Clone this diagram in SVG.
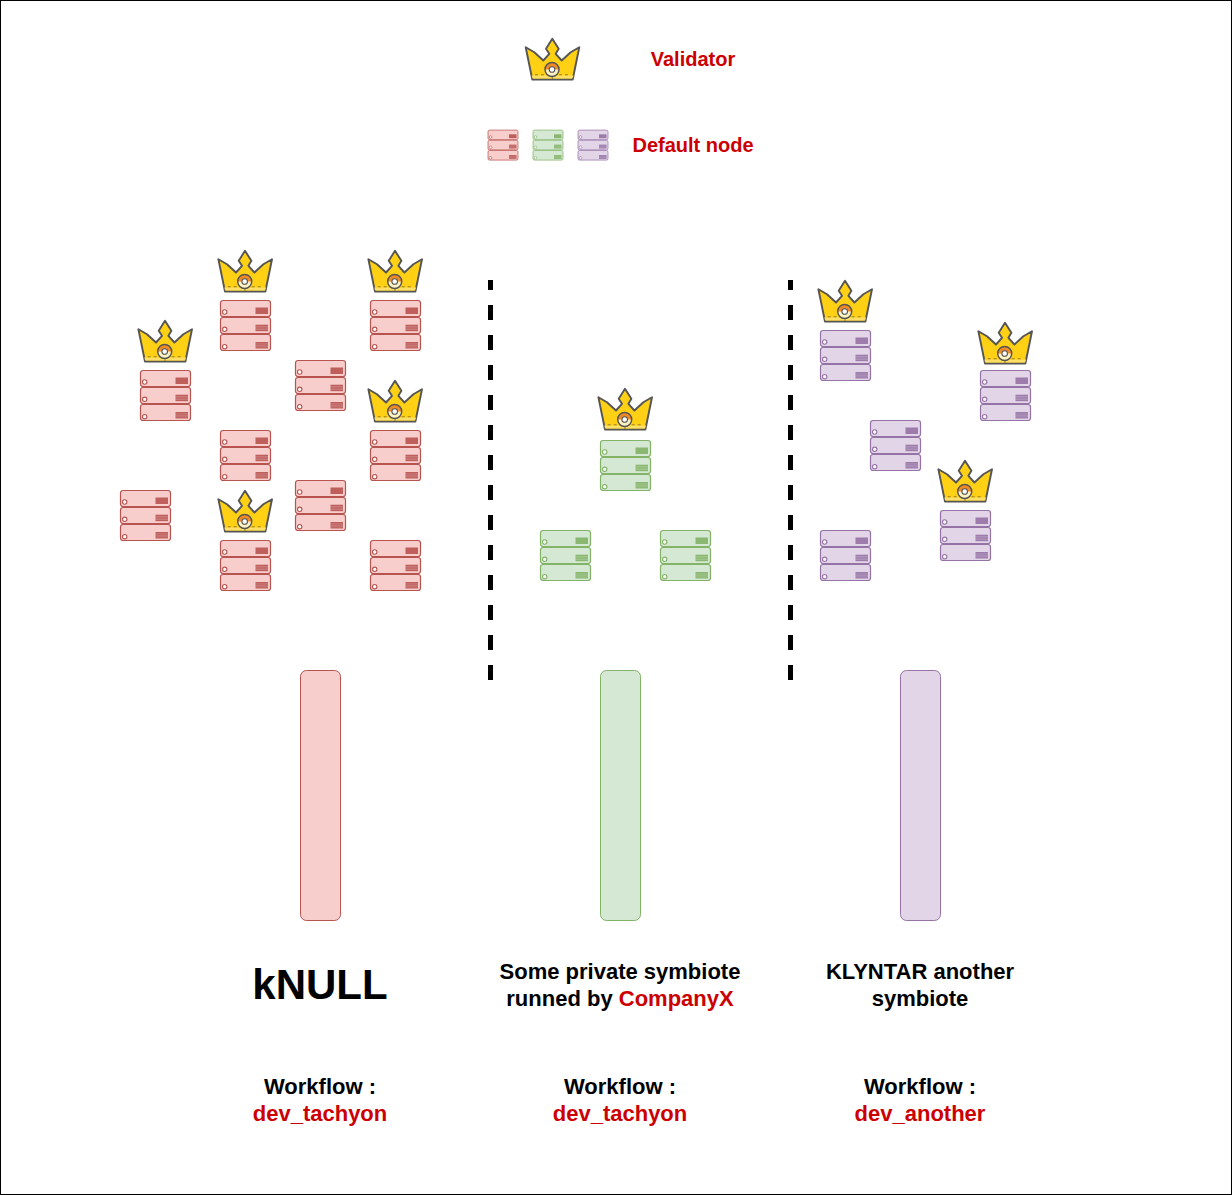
<svg xmlns="http://www.w3.org/2000/svg" width="1232" height="1195" viewBox="0 0 1232 1195">
<style>
text{font-family:"Liberation Sans",Arial,sans-serif;font-weight:700;text-anchor:middle;fill:#000}
.t20{font-size:20px}.t22{font-size:22px}.red{fill:#cc0000}.t42{font-size:42px}
.r{fill:#f8cecc;stroke:#b85450;color:#b85450}
.g{fill:#d5e8d4;stroke:#82b366;color:#82b366}
.p{fill:#e1d5e7;stroke:#9673a6;color:#9673a6}
.sep{stroke:#000;stroke-width:5;stroke-dasharray:15 15;stroke-dashoffset:5;fill:none}
</style>
<defs>
<g id="srv">
<g stroke-width="1.2">
<rect x="0.5" y="0.5" width="50" height="16" rx="2.5"/>
<rect x="0.5" y="17.5" width="50" height="16" rx="2.5"/>
<rect x="0.5" y="34.5" width="50" height="16" rx="2.5"/>
</g>
<g fill="currentColor" stroke="none" opacity=".9"><rect x="35.5" y="7.5" width="12.5" height="6.5"/><rect x="35.5" y="24.7" width="12.5" height="6.5"/><rect x="35.5" y="42" width="12.5" height="6.5"/></g>
<path d="M35.5 26.5H48M35.5 28H48M35.5 29.5H48M35.5 43.8H48M35.5 45.3H48M35.5 46.8H48" fill="none" stroke="#fff" stroke-width=".5" opacity=".35"/>
<g fill="#fff" stroke-width="1.1"><circle cx="4.7" cy="12" r="2.2"/><circle cx="4.7" cy="29.3" r="2.2"/><circle cx="4.7" cy="46.7" r="2.2"/></g>
</g>
<g id="crown">
<path d="M0.7 8.7 9.3 13.7 18.3 22 24.3 15.3 21 10.3 27.3 0.3 33.7 10.3 30.7 15.3 36.7 22 45.7 13.7 54.3 8.7 47.7 41H7.3Z" fill="#ffd014" stroke="#555" stroke-width="1.9" stroke-linejoin="round"/>
<path d="M6.6 37H48.4L47.4 40H7.6Z" fill="#ffdf66"/>
<path d="M10 36.3H45" fill="none" stroke="#7a6a20" stroke-width="0.8" stroke-dasharray="3 3"/>
<path d="M27.3 37V40.5" stroke="#7a6a20" stroke-width=".8"/>
<circle cx="27" cy="31" r="7" fill="#fff3c4"/>
<path d="M20 31A7 7 0 0 1 34 31Z" fill="#f08a24"/>
<circle cx="27" cy="31" r="7" fill="none" stroke="#555" stroke-width="1.5"/>
<circle cx="27" cy="31" r="2.8" fill="#fff" stroke="#555" stroke-width="1.1"/>
</g>
</defs>
<rect x="0.5" y="0.5" width="1231" height="1194" fill="#fff" stroke="#000"/>
<g id="connectors">
<path class="sep" d="M490.5 280V680"/>
<path class="sep" d="M790.5 280V680"/>
</g>
<g id="legend-validator"><use href="#crown" x="525" y="38.5"/><text class="t20 red" x="693" y="66">Validator</text></g>
<g id="legend-default"><use href="#srv" class="r" transform="translate(487.7 129.8) scale(.6)"/><use href="#srv" class="g" transform="translate(532.7 129.8) scale(.6)"/><use href="#srv" class="p" transform="translate(577.7 129.8) scale(.6)"/><text class="t20 red" x="693" y="152">Default node</text></g>
<g id="v1"><use href="#crown" x="217.7" y="250.5"/></g>
<g id="v2"><use href="#crown" x="367.7" y="250.5"/></g>
<g id="v3"><use href="#crown" x="137.7" y="320.5"/></g>
<g id="v4"><use href="#crown" x="367.7" y="380.5"/></g>
<g id="v5"><use href="#crown" x="217.7" y="490.5"/></g>
<g id="v6"><use href="#crown" x="597.7" y="388.5"/></g>
<g id="v7"><use href="#crown" x="817.7" y="280.5"/></g>
<g id="v8"><use href="#crown" x="977.7" y="322.5"/></g>
<g id="v9"><use href="#crown" x="937.7" y="460.5"/></g>
<g id="n1"><use href="#srv" class="r" x="220" y="300"/></g>
<g id="n2"><use href="#srv" class="r" x="370" y="300"/></g>
<g id="n3"><use href="#srv" class="r" x="140" y="370"/></g>
<g id="n4"><use href="#srv" class="r" x="295" y="360"/></g>
<g id="n5"><use href="#srv" class="r" x="220" y="430"/></g>
<g id="n6"><use href="#srv" class="r" x="370" y="430"/></g>
<g id="n7"><use href="#srv" class="r" x="120" y="490"/></g>
<g id="n8"><use href="#srv" class="r" x="295" y="480"/></g>
<g id="n9"><use href="#srv" class="r" x="220" y="540"/></g>
<g id="n10"><use href="#srv" class="r" x="370" y="540"/></g>
<g id="n11"><use href="#srv" class="g" x="600" y="440"/></g>
<g id="n12"><use href="#srv" class="g" x="540" y="530"/></g>
<g id="n13"><use href="#srv" class="g" x="660" y="530"/></g>
<g id="n14"><use href="#srv" class="p" x="820" y="330"/></g>
<g id="n15"><use href="#srv" class="p" x="980" y="370"/></g>
<g id="n16"><use href="#srv" class="p" x="870" y="420"/></g>
<g id="n17"><use href="#srv" class="p" x="940" y="510"/></g>
<g id="n18"><use href="#srv" class="p" x="820" y="530"/></g>
<g id="bar-red"><rect class="r" x="300.5" y="670.5" width="40" height="250" rx="6"/></g>
<g id="bar-green"><rect class="g" x="600.5" y="670.5" width="40" height="250" rx="6"/></g>
<g id="bar-purple"><rect class="p" x="900.5" y="670.5" width="40" height="250" rx="6"/></g>
<g id="label-knull"><text class="t42" x="320" y="999">kNULL</text></g>
<g id="label-private"><text class="t22" x="620" y="979">Some private symbiote</text><text class="t22" x="620" y="1006">runned by <tspan class="red">CompanyX</tspan></text></g>
<g id="label-another"><text class="t22" x="920" y="979">KLYNTAR another</text><text class="t22" x="920" y="1006">symbiote</text></g>
<g id="wf1"><text class="t22" x="320" y="1094">Workflow :</text><text class="t22 red" x="320" y="1121">dev_tachyon</text></g>
<g id="wf2"><text class="t22" x="620" y="1094">Workflow :</text><text class="t22 red" x="620" y="1121">dev_tachyon</text></g>
<g id="wf3"><text class="t22" x="920" y="1094">Workflow :</text><text class="t22 red" x="920" y="1121">dev_another</text></g>
</svg>
